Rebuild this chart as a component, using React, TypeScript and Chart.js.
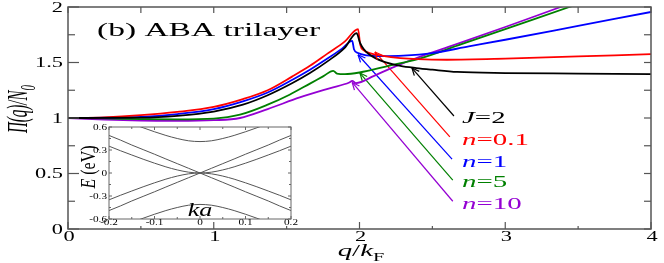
import React, { useEffect, useRef } from 'react';
import { Chart, registerables } from 'chart.js';

Chart.register(...registerables);

// ---------- main panel data ----------
const X_TICKS = [0, 1, 2, 3, 4];
const X_TICK_LABELS = ['0', '1', '2', '3', '4'];
const Y_TICKS = [0, 0.5, 1, 1.5, 2];
const Y_TICK_LABELS = ['0', '0.5', '1', '1.5', '2'];

const J2_X = [0, 0.5, 0.75, 1.0, 1.2, 1.37, 1.54, 1.66, 1.78, 1.9, 1.98, 2.003, 2.03, 2.07, 2.16, 2.28, 2.39, 2.5, 2.67, 3.0, 3.5, 4.0];
const J2_Y = [1.0, 1.003, 1.02, 1.058, 1.12, 1.205, 1.315, 1.405, 1.51, 1.635, 1.765, 1.68, 1.62, 1.57, 1.51, 1.47, 1.45, 1.435, 1.415, 1.405, 1.4, 1.395];

const N01_X = [0, 0.25, 0.5, 0.75, 1.0, 1.2, 1.37, 1.54, 1.66, 1.78, 1.9, 1.99, 2.005, 2.03, 2.07, 2.16, 2.28, 2.4, 2.6, 3.0, 3.5, 4.0];
const N01_Y = [1.0, 1.006, 1.025, 1.055, 1.1, 1.17, 1.25, 1.375, 1.47, 1.58, 1.69, 1.8, 1.66, 1.61, 1.585, 1.56, 1.54, 1.53, 1.525, 1.535, 1.555, 1.575];

const N1_X = [0, 0.5, 0.75, 1.0, 1.2, 1.37, 1.54, 1.66, 1.78, 1.88, 1.95, 1.962, 1.99, 2.05, 2.15, 2.3, 2.5, 2.75, 3.0, 3.5, 4.0];
const N1_Y = [1.0, 1.01, 1.035, 1.08, 1.15, 1.23, 1.345, 1.435, 1.535, 1.625, 1.695, 1.62, 1.585, 1.565, 1.558, 1.562, 1.585, 1.645, 1.705, 1.83, 1.955];

const N5_X = [0, 0.25, 0.5, 0.75, 1.0, 1.18, 1.37, 1.52, 1.66, 1.75, 1.82, 1.845, 1.9, 2.0, 2.2, 2.4, 2.7, 3.0, 3.44, 4.0];
const N5_Y = [1.0, 0.996, 0.99, 0.988, 0.995, 1.03, 1.12, 1.21, 1.31, 1.375, 1.425, 1.4, 1.395, 1.41, 1.47, 1.53, 1.665, 1.8, 2.0, 2.25];

const N10_X = [0, 0.25, 0.5, 0.75, 1.0, 1.18, 1.37, 1.59, 1.8, 1.93, 1.95, 1.975, 2.1, 2.21, 2.4, 2.62, 3.0, 3.38, 4.0];
const N10_Y = [1.0, 0.985, 0.976, 0.974, 0.98, 1.0, 1.08, 1.185, 1.27, 1.32, 1.335, 1.315, 1.38, 1.445, 1.545, 1.645, 1.82, 2.0, 2.29];

// annotation arrows: [start x, start y, tip x, tip y] in data units
const ARROW_J2 = [2.648, 1.018, 2.36, 1.45];
const ARROW_N01 = [2.62, 0.83, 2.106, 1.595];
const ARROW_N1 = [2.635, 0.63, 1.99, 1.57];
const ARROW_N5 = [2.64, 0.44, 2.003, 1.405];
const ARROW_N10 = [2.64, 0.25, 1.95, 1.32];

const SERIES_LABELS = [
  { pre: 'J', rest: '=2' },
  { pre: 'n', rest: '=0.1' },
  { pre: 'n', rest: '=1' },
  { pre: 'n', rest: '=5' },
  { pre: 'n', rest: '=10' },
];

// ---------- inset data (band structure) ----------
const K_TICKS = [-0.2, -0.1, 0, 0.1, 0.2];
const K_TICK_LABELS = ['-0.2', '-0.1', '0', '0.1', '0.2'];
const E_TICKS = [-0.6, -0.3, 0, 0.3, 0.6];
const E_TICK_LABELS = ['-0.6', '-0.3', '0', '0.3', '0.6'];

const K = [-0.2, -0.175, -0.15, -0.125, -0.1, -0.075, -0.05, -0.025, 0, 0.025, 0.05, 0.075, 0.1, 0.125, 0.15, 0.175, 0.2];
const MONO_A = [0.49, 0.43, 0.365, 0.305, 0.245, 0.183, 0.122, 0.061, 0, -0.061, -0.122, -0.183, -0.245, -0.305, -0.365, -0.43, -0.49];
const MONO_B = [-0.49, -0.43, -0.365, -0.305, -0.245, -0.183, -0.122, -0.061, 0, 0.061, 0.122, 0.183, 0.245, 0.305, 0.365, 0.43, 0.49];
const BI_C = [0.35, 0.291, 0.235, 0.18, 0.128, 0.08, 0.04, 0.011, 0, 0.011, 0.04, 0.08, 0.128, 0.18, 0.235, 0.291, 0.35];
const BI_V = [-0.35, -0.291, -0.235, -0.18, -0.128, -0.08, -0.04, -0.011, 0, -0.011, -0.04, -0.08, -0.128, -0.18, -0.235, -0.291, -0.35];
const GAP_C = [0.76, 0.7, 0.645, 0.59, 0.538, 0.49, 0.45, 0.42, 0.41, 0.42, 0.45, 0.49, 0.538, 0.59, 0.645, 0.7, 0.76];
const GAP_V = [-0.76, -0.7, -0.645, -0.59, -0.538, -0.49, -0.45, -0.42, -0.41, -0.42, -0.45, -0.49, -0.538, -0.59, -0.645, -0.7, -0.76];

// ---------- styling ----------
const COLORS = ['#000000', '#ff0000', '#0000ff', '#008000', '#9400d3'];
const AXIS_COLOR = '#555555';
const FONT = '"Liberation Serif", "Times New Roman", serif';

type Seg = { t: string; it?: boolean; sub?: boolean };

function segFont(s: Seg, size: number) {
  const sz = s.sub ? Math.round(size * 0.7) : size;
  return `${s.it ? 'italic ' : ''}${sz}px ${FONT}`;
}

function richWidth(ctx: CanvasRenderingContext2D, segs: Seg[], size: number) {
  let w = 0;
  for (const s of segs) {
    ctx.font = segFont(s, size);
    w += ctx.measureText(s.t).width;
  }
  return w;
}

function drawRich(
  ctx: CanvasRenderingContext2D,
  segs: Seg[],
  x: number,
  y: number,
  o: { size: number; sx?: number; align?: 'left' | 'center' | 'right'; color?: string; rot?: boolean }
) {
  ctx.save();
  ctx.translate(x, y);
  ctx.scale(o.sx ?? 1, 1);
  if (o.rot) ctx.rotate(-Math.PI / 2);
  ctx.fillStyle = o.color ?? '#000';
  ctx.textBaseline = 'alphabetic';
  ctx.textAlign = 'left';
  const w = richWidth(ctx, segs, o.size);
  let cx = o.align === 'center' ? -w / 2 : o.align === 'right' ? -w : 0;
  for (const s of segs) {
    ctx.font = segFont(s, o.size);
    ctx.fillText(s.t, cx, s.sub ? o.size * 0.28 : 0);
    cx += ctx.measureText(s.t).width;
  }
  ctx.restore();
}

function pts(xs: number[], ys: number[]) {
  return xs.map((x, i) => ({ x, y: ys[i] }));
}

function seg(ctx: CanvasRenderingContext2D, x1: number, y1: number, x2: number, y2: number) {
  ctx.beginPath();
  ctx.moveTo(x1, y1);
  ctx.lineTo(x2, y2);
  ctx.stroke();
}

const ARROWS = [ARROW_J2, ARROW_N01, ARROW_N1, ARROW_N5, ARROW_N10];

const mainPlugin = {
  id: 'mainDeco',
  beforeDraw(chart: any) {
    const { ctx, width, height } = chart;
    ctx.save();
    ctx.fillStyle = '#ffffff';
    ctx.fillRect(0, 0, width, height);
    ctx.restore();
  },
  afterDraw(chart: any) {
    const { ctx, chartArea: a, scales } = chart;
    const xs = scales.x;
    const ys = scales.y;
    ctx.save();
    // arrowheads
    ctx.lineWidth = 1.2;
    for (let i = 0; i < ARROWS.length; i++) {
      const meta = chart.getDatasetMeta(5 + i);
      const p0 = meta.data[0];
      const p1 = meta.data[1];
      const ang = Math.atan2(p0.y - p1.y, p0.x - p1.x);
      ctx.strokeStyle = COLORS[i];
      const L = 8;
      const d = 0.42;
      seg(ctx, p1.x, p1.y, p1.x + L * Math.cos(ang + d), p1.y + L * Math.sin(ang + d));
      seg(ctx, p1.x, p1.y, p1.x + L * Math.cos(ang - d), p1.y + L * Math.sin(ang - d));
    }
    // frame
    ctx.strokeStyle = AXIS_COLOR;
    ctx.lineWidth = 1.5;
    ctx.strokeRect(a.left, a.top, a.right - a.left, a.bottom - a.top);
    ctx.lineWidth = 1.2;
    // x ticks
    xs.ticks.forEach((t: any, i: number) => {
      const px = xs.getPixelForValue(t.value);
      seg(ctx, px, a.bottom, px, a.bottom - 7);
      seg(ctx, px, a.top, px, a.top + 6);
      if (i < xs.ticks.length - 1) {
        const mx = xs.getPixelForValue((t.value + xs.ticks[i + 1].value) / 2);
        seg(ctx, mx, a.bottom, mx, a.bottom - 3);
        seg(ctx, mx, a.top, mx, a.top + 6);
      }
      drawRich(ctx, [{ t: X_TICK_LABELS[i] }], px + 1, a.bottom + 12, { size: 14, sx: 1.6, align: 'center' });
    });
    // y ticks
    ys.ticks.forEach((t: any, i: number) => {
      const py = ys.getPixelForValue(t.value);
      seg(ctx, a.left, py, a.left + 11, py);
      seg(ctx, a.right, py, a.right - 7, py);
      if (i < ys.ticks.length - 1) {
        const my = ys.getPixelForValue((t.value + ys.ticks[i + 1].value) / 2);
        seg(ctx, a.left, my, a.left + 7, my);
        seg(ctx, a.right, my, a.right - 7, my);
      }
      drawRich(ctx, [{ t: Y_TICK_LABELS[i] }], a.left - 5, py + 4.5, { size: 14, sx: 1.6, align: 'right' });
    });
    // axis titles
    drawRich(
      ctx,
      [{ t: 'Π(q)/N', it: true }, { t: '0', it: true, sub: true }],
      27,
      109,
      { size: 15, sx: 2.0, align: 'center', rot: true }
    );
    drawRich(
      ctx,
      [{ t: 'q', it: true }, { t: '/' }, { t: 'k', it: true }, { t: 'F', sub: true }],
      361,
      256,
      { size: 17, sx: 1.7, align: 'center' }
    );
    // panel title
    drawRich(ctx, [{ t: '(b) ABA trilayer' }], 97, 36, { size: 18, sx: 1.86, align: 'left' });
    // series labels
    const baselines = [123, 145, 167, 187, 209];
    SERIES_LABELS.forEach((l, i) => {
      drawRich(ctx, [{ t: l.pre, it: true }, { t: l.rest }], 462, baselines[i], {
        size: 17,
        sx: 1.7,
        align: 'left',
        color: COLORS[i],
      });
    });
    ctx.restore();
  },
};

const insetPlugin = {
  id: 'insetDeco',
  beforeDraw(chart: any) {
    const { ctx, chartArea: a } = chart;
    ctx.save();
    ctx.fillStyle = '#ffffff';
    ctx.fillRect(a.left, a.top, a.right - a.left, a.bottom - a.top);
    ctx.restore();
  },
  afterDraw(chart: any) {
    const { ctx, chartArea: a, scales } = chart;
    const xs = scales.x;
    const ys = scales.y;
    ctx.save();
    ctx.strokeStyle = '#666666';
    ctx.lineWidth = 1;
    ctx.strokeRect(a.left, a.top, a.right - a.left, a.bottom - a.top);
    xs.ticks.forEach((t: any, i: number) => {
      const px = xs.getPixelForValue(t.value);
      seg(ctx, px, a.bottom, px, a.bottom - 3);
      seg(ctx, px, a.top, px, a.top + 3);
      if (i < xs.ticks.length - 1) {
        const mx = xs.getPixelForValue((t.value + xs.ticks[i + 1].value) / 2);
        seg(ctx, mx, a.bottom, mx, a.bottom - 2);
        seg(ctx, mx, a.top, mx, a.top + 2);
      }
      drawRich(ctx, [{ t: K_TICK_LABELS[i] }], px, a.bottom + 6, { size: 8, sx: 1.4, align: 'center' });
    });
    ys.ticks.forEach((t: any, i: number) => {
      const py = ys.getPixelForValue(t.value);
      seg(ctx, a.left, py, a.left + 3, py);
      seg(ctx, a.right, py, a.right - 3, py);
      if (i < ys.ticks.length - 1) {
        const my = ys.getPixelForValue((t.value + ys.ticks[i + 1].value) / 2);
        seg(ctx, a.left, my, a.left + 2, my);
        seg(ctx, a.right, my, a.right - 2, my);
      }
      drawRich(ctx, [{ t: E_TICK_LABELS[i] }], a.left - 2, py + 3, { size: 8, sx: 1.4, align: 'right' });
    });
    drawRich(ctx, [{ t: 'E', it: true }, { t: ' (eV)' }], 15, 49, { size: 16, sx: 1.3, align: 'center', rot: true });
    drawRich(ctx, [{ t: 'ka', it: true }], xs.getPixelForValue(0), 98, { size: 18, sx: 1.45, align: 'center' });
    ctx.restore();
  },
};

function mainConfig(): any {
  const curves = [
    pts(J2_X, J2_Y),
    pts(N01_X, N01_Y),
    pts(N1_X, N1_Y),
    pts(N5_X, N5_Y),
    pts(N10_X, N10_Y),
  ];
  const datasets: any[] = curves.map((d, i) => ({
    data: d,
    borderColor: COLORS[i],
    borderWidth: 1.8,
    pointRadius: 0,
    cubicInterpolationMode: 'monotone',
    fill: false,
  }));
  ARROWS.forEach((a, i) => {
    datasets.push({
      data: [
        { x: a[0], y: a[1] },
        { x: a[2], y: a[3] },
      ],
      borderColor: COLORS[i],
      borderWidth: 1.2,
      pointRadius: 0,
      tension: 0,
      fill: false,
    });
  });
  return {
    type: 'line',
    data: { datasets },
    options: {
      responsive: false,
      animation: false,
      devicePixelRatio: 1,
      events: [],
      layout: { padding: { left: 0, right: 13, top: 7, bottom: 0 } },
      plugins: { legend: { display: false }, tooltip: { enabled: false } },
      scales: {
        x: {
          type: 'linear',
          min: 0,
          max: 4,
          grid: { display: false },
          border: { display: false },
          ticks: { display: false },
          afterBuildTicks: (s: any) => {
            s.ticks = X_TICKS.map((v) => ({ value: v }));
          },
          afterFit: (s: any) => {
            s.height = 34;
          },
        },
        y: {
          type: 'linear',
          min: 0,
          max: 2,
          grid: { display: false },
          border: { display: false },
          ticks: { display: false },
          afterBuildTicks: (s: any) => {
            s.ticks = Y_TICKS.map((v) => ({ value: v }));
          },
          afterFit: (s: any) => {
            s.width = 68;
          },
        },
      },
    },
    plugins: [mainPlugin],
  };
}

function insetConfig(): any {
  const bands = [MONO_A, MONO_B, BI_C, BI_V, GAP_C, GAP_V];
  return {
    type: 'line',
    data: {
      datasets: bands.map((b) => ({
        data: pts(K, b),
        borderColor: '#555555',
        borderWidth: 1,
        pointRadius: 0,
        cubicInterpolationMode: 'monotone',
        fill: false,
      })),
    },
    options: {
      responsive: false,
      animation: false,
      devicePixelRatio: 1,
      events: [],
      layout: { padding: { left: 0, right: 14, top: 9, bottom: 0 } },
      plugins: { legend: { display: false }, tooltip: { enabled: false } },
      scales: {
        x: {
          type: 'linear',
          min: -0.2,
          max: 0.2,
          grid: { display: false },
          border: { display: false },
          ticks: { display: false },
          afterBuildTicks: (s: any) => {
            s.ticks = K_TICKS.map((v) => ({ value: v }));
          },
          afterFit: (s: any) => {
            s.height = 11;
          },
        },
        y: {
          type: 'linear',
          min: -0.6,
          max: 0.6,
          grid: { display: false },
          border: { display: false },
          ticks: { display: false },
          afterBuildTicks: (s: any) => {
            s.ticks = E_TICKS.map((v) => ({ value: v }));
          },
          afterFit: (s: any) => {
            s.width = 29;
          },
        },
      },
    },
    plugins: [insetPlugin],
  };
}

export default function App() {
  const mainRef = useRef<HTMLCanvasElement>(null);
  const insetRef = useRef<HTMLCanvasElement>(null);
  useEffect(() => {
    const c1 = new Chart(mainRef.current as HTMLCanvasElement, mainConfig());
    const c2 = new Chart(insetRef.current as HTMLCanvasElement, insetConfig());
    return () => {
      c1.destroy();
      c2.destroy();
    };
  }, []);
  return (
    <div style={{ position: 'fixed', left: 0, top: 0, width: 664, height: 263, background: '#fff' }}>
      <canvas ref={mainRef} width={664} height={263} style={{ position: 'absolute', left: 0, top: 0 }} />
      <canvas ref={insetRef} width={225} height={112} style={{ position: 'absolute', left: 80, top: 118 }} />
    </div>
  );
}
